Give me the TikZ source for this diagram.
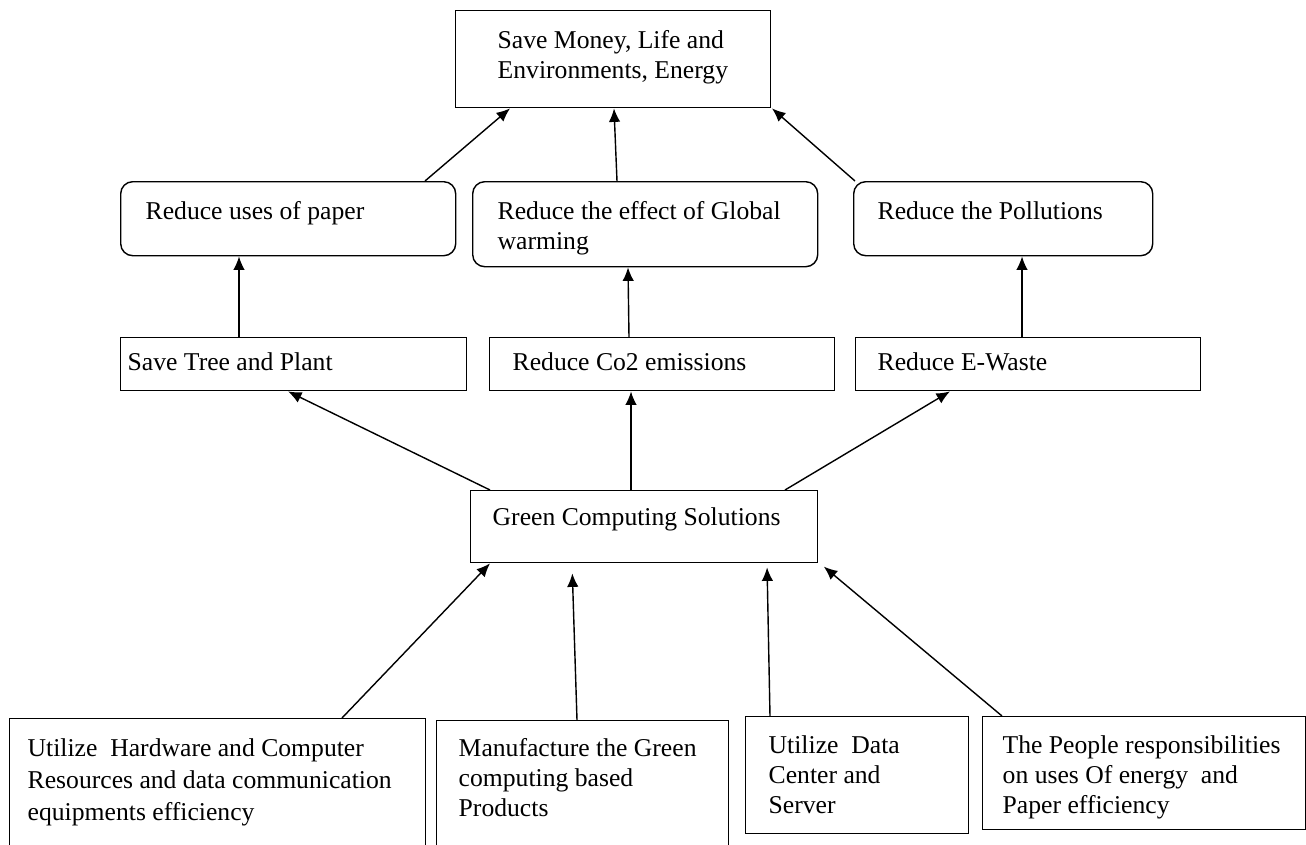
\documentclass[tikz,border=0pt]{standalone}
\usepackage{fontspec}
\setmainfont{Liberation Serif}
\usetikzlibrary{arrows.meta}
\newdimen\pxu \pxu=0.02cm
% box text: width, height, left pad, top pad, lines
\newcommand{\boxtext}[5]{\parbox[t][#2\pxu][t]{#1\pxu}{\vspace*{#4\pxu}\leftskip=#3\pxu\strut #5}}
\tikzstyle{box} = [rectangle, draw=black, line width=0.8pt, inner sep=0pt, anchor=north west, font=\fontsize{14.6}{17}\selectfont]
\tikzstyle{rbox} = [box, rounded corners=0.24cm]
\tikzstyle{arrow} = [line width=0.8pt, -{Latex[length=0.27cm,width=0.23cm]}]

\begin{document}
\begin{tikzpicture}[x=0.02cm, y=-0.02cm]
  \useasboundingbox (0,0) rectangle (1306,845);
  \node (goal) [box] at (455,10) {\boxtext{315}{97}{42}{17}{Save Money, Life and\\Environments, Energy}};
  \node (red1) [rbox] at (120,181) {\boxtext{335}{74}{25}{17}{Reduce uses of paper}};
  \node (red2) [rbox] at (472,181) {\boxtext{345}{85}{25}{17}{Reduce the effect of Global\\warming}};
  \node (red3) [rbox] at (853,181) {\boxtext{299}{74}{24}{17}{Reduce the Pollutions}};
  \node (sav1) [box] at (120,337) {\boxtext{346}{53}{7}{12}{Save Tree and Plant}};
  \node (sav2) [box] at (489,337) {\boxtext{345}{53}{23}{12}{Reduce Co2 emissions}};
  \node (sav3) [box] at (855,337) {\boxtext{345}{53}{22}{12}{Reduce E-Waste}};
  \node (green) [box] at (470,490) {\boxtext{347}{72}{22}{14}{Green Computing Solutions}};
  \node (in1) [box] at (9,718) {\boxtext{416}{140}{18}{17}{\fontsize{14.6}{18.2}\selectfont Utilize\ \ Hardware and Computer\\Resources and data communication\\equipments efficiency}};
  \node (in2) [box] at (436,720) {\boxtext{292}{140}{22}{15}{Manufacture the Green\\computing based\\Products}};
  \node (in3) [box] at (745,716) {\boxtext{223}{117}{23}{16}{Utilize\ \ Data\\Center and\\Server}};
  \node (in4) [box] at (982,716) {\boxtext{323}{113}{20}{16}{The People\ responsibilities\\on uses Of energy\ \ and\\Paper efficiency}};

  % top level
  \draw [arrow] (425,0 |- red1.north) -- (510,0 |- goal.south);
  \draw [arrow] (617,0 |- red2.north) -- (614,0 |- goal.south);
  \draw [arrow] (855,0 |- red3.north) -- (772,0 |- goal.south);
  % middle
  \draw [arrow] (239,0 |- sav1.north) -- (239,0 |- red1.south);
  \draw [arrow] (629,0 |- sav2.north) -- (628,0 |- red2.south);
  \draw [arrow] (1022,0 |- sav3.north) -- (1022,0 |- red3.south);
  % from solutions
  \draw [arrow] (490,0 |- green.north) -- (288,0 |- sav1.south);
  \draw [arrow] (631,0 |- green.north) -- (631,0 |- sav2.south);
  \draw [arrow] (785,0 |- green.north) -- (950,0 |- sav3.south);
  % inputs
  \draw [arrow] (342,0 |- in1.north) -- (490,0 |- green.south);
  \draw [arrow, shorten >=0.2cm] (577,0 |- in2.north) -- (572,0 |- green.south);
  \draw [arrow, shorten >=0.08cm] (770,0 |- in3.north) -- (767,0 |- green.south);
  \draw [arrow, shorten >=0.1cm] (1002,0 |- in4.north) -- (820,0 |- green.south);
\end{tikzpicture}
\end{document}
